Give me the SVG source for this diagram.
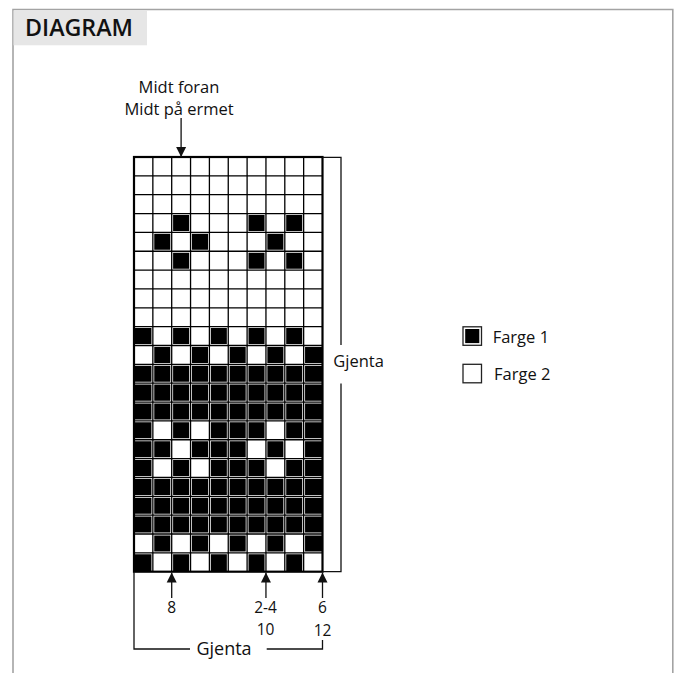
<svg xmlns="http://www.w3.org/2000/svg" xmlns:xlink="http://www.w3.org/1999/xlink" width="680" height="673" viewBox="0 0 680 673">
<style>
  .t { font-family: "Open Sans", "Noto Sans", "Liberation Sans", sans-serif; fill: #111; font-size: 16.5px; }
  .n { font-size: 15.5px; }
  .m { text-anchor: middle; }
  .ln { fill: none; stroke: #111; stroke-width: 1.3; }
  .b { fill: #000; }
</style>
<defs>
  <path id="gridlines" d="M152.85 157V571.7M171.7 157V571.7M190.55 157V571.7M209.4 157V571.7M228.25 157V571.7M247.1 157V571.7M265.95 157V571.7M284.8 157V571.7M303.65 157V571.7M134 175.85H322.5M134 194.7H322.5M134 213.55H322.5M134 232.4H322.5M134 251.25H322.5M134 270.1H322.5M134 288.95H322.5M134 307.8H322.5M134 326.65H322.5M134 345.5H322.5M134 364.35H322.5M134 383.2H322.5M134 402.05H322.5M134 420.9H322.5M134 439.75H322.5M134 458.6H322.5M134 477.45H322.5M134 496.3H322.5M134 515.15H322.5M134 534H322.5M134 552.85H322.5"/>
  <marker id="ah" viewBox="0 0 10 14" refX="10" refY="7" markerWidth="10" markerHeight="14" markerUnits="userSpaceOnUse" orient="auto">
    <path d="M0 2 L10 7 L0 12 Z" fill="#111"/>
  </marker>
</defs>

<!-- frame and title -->
<g id="frame">
  <path d="M13 673V9.5H672.8V673" fill="none" stroke="#a3a3a3" stroke-width="1.6"/>
  <rect x="13.5" y="10.3" width="133.5" height="35" fill="#e6e6e6"/>
  <text class="t" x="25" y="36" style="font-size:23px;font-weight:600" textLength="108" lengthAdjust="spacingAndGlyphs">DIAGRAM</text>
</g>

<!-- chart grid -->
<g id="chart">
  <rect x="134" y="157" width="188.5" height="414.7" fill="#fff"/>
  <rect class="b" x="171.7" y="213.55" width="18.85" height="18.85"/>
  <rect class="b" x="247.1" y="213.55" width="18.85" height="18.85"/>
  <rect class="b" x="284.8" y="213.55" width="18.85" height="18.85"/>
  <rect class="b" x="152.85" y="232.4" width="18.85" height="18.85"/>
  <rect class="b" x="190.55" y="232.4" width="18.85" height="18.85"/>
  <rect class="b" x="265.95" y="232.4" width="18.85" height="18.85"/>
  <rect class="b" x="171.7" y="251.25" width="18.85" height="18.85"/>
  <rect class="b" x="247.1" y="251.25" width="18.85" height="18.85"/>
  <rect class="b" x="284.8" y="251.25" width="18.85" height="18.85"/>
  <rect class="b" x="134" y="326.65" width="18.85" height="18.85"/>
  <rect class="b" x="171.7" y="326.65" width="18.85" height="18.85"/>
  <rect class="b" x="209.4" y="326.65" width="18.85" height="18.85"/>
  <rect class="b" x="247.1" y="326.65" width="18.85" height="18.85"/>
  <rect class="b" x="284.8" y="326.65" width="18.85" height="18.85"/>
  <rect class="b" x="152.85" y="345.5" width="18.85" height="18.85"/>
  <rect class="b" x="190.55" y="345.5" width="18.85" height="18.85"/>
  <rect class="b" x="228.25" y="345.5" width="18.85" height="18.85"/>
  <rect class="b" x="265.95" y="345.5" width="18.85" height="18.85"/>
  <rect class="b" x="303.65" y="345.5" width="18.85" height="18.85"/>
  <rect class="b" x="134" y="364.35" width="188.5" height="56.55"/>
  <rect class="b" x="134" y="420.9" width="18.85" height="18.85"/>
  <rect class="b" x="171.7" y="420.9" width="18.85" height="18.85"/>
  <rect class="b" x="209.4" y="420.9" width="56.55" height="18.85"/>
  <rect class="b" x="284.8" y="420.9" width="37.7" height="18.85"/>
  <rect class="b" x="134" y="439.75" width="37.7" height="18.85"/>
  <rect class="b" x="190.55" y="439.75" width="56.55" height="18.85"/>
  <rect class="b" x="265.95" y="439.75" width="18.85" height="18.85"/>
  <rect class="b" x="303.65" y="439.75" width="18.85" height="18.85"/>
  <rect class="b" x="134" y="458.6" width="18.85" height="18.85"/>
  <rect class="b" x="171.7" y="458.6" width="18.85" height="18.85"/>
  <rect class="b" x="209.4" y="458.6" width="56.55" height="18.85"/>
  <rect class="b" x="284.8" y="458.6" width="37.7" height="18.85"/>
  <rect class="b" x="134" y="477.45" width="188.5" height="56.55"/>
  <rect class="b" x="152.85" y="534" width="18.85" height="18.85"/>
  <rect class="b" x="190.55" y="534" width="18.85" height="18.85"/>
  <rect class="b" x="228.25" y="534" width="18.85" height="18.85"/>
  <rect class="b" x="265.95" y="534" width="18.85" height="18.85"/>
  <rect class="b" x="303.65" y="534" width="18.85" height="18.85"/>
  <rect class="b" x="134" y="552.85" width="18.85" height="18.85"/>
  <rect class="b" x="171.7" y="552.85" width="18.85" height="18.85"/>
  <rect class="b" x="209.4" y="552.85" width="18.85" height="18.85"/>
  <rect class="b" x="247.1" y="552.85" width="18.85" height="18.85"/>
  <rect class="b" x="284.8" y="552.85" width="18.85" height="18.85"/>
  <use xlink:href="#gridlines" fill="none" stroke="#fff" stroke-width="2.8"/>
  <use xlink:href="#gridlines" fill="none" stroke="#000" stroke-width="1.3"/>
  <rect x="134" y="157" width="188.5" height="414.7" fill="none" stroke="#000" stroke-width="2.2"/>
</g>

<!-- labels -->
<g id="top-label">
  <text class="t m" x="179" y="93">Midt foran</text>
  <text class="t m" x="179" y="115">Midt på ermet</text>
</g>
<g id="repeat-right">
  <text class="t" x="333.3" y="366.7">Gjenta</text>
</g>
<g id="repeat-bottom">
  <text class="t m" x="224" y="655" style="font-size:18px;font-weight:500">Gjenta</text>
</g>
<g id="stitch-labels">
  <text class="t n m" x="171.7" y="612.5">8</text>
  <text class="t n m" x="265.5" y="612.5">2-4</text>
  <text class="t n m" x="265.5" y="634.5">10</text>
  <text class="t n m" x="322.5" y="612.5">6</text>
  <text class="t n m" x="322.5" y="636">12</text>
</g>

<!-- legend -->
<g id="legend-farge1">
  <rect x="463" y="326.8" width="18.5" height="18.5" fill="#fff" stroke="#222" stroke-width="1.3"/>
  <rect x="465.2" y="329" width="14.1" height="14.1" fill="#000"/>
  <text class="t" x="492.7" y="343.3">Farge 1</text>
</g>
<g id="legend-farge2">
  <rect x="463" y="364.3" width="18.5" height="18.5" fill="#fff" stroke="#222" stroke-width="1.3"/>
  <text class="t" x="494" y="380">Farge 2</text>
</g>

<!-- connectors -->
<g id="connectors">
  <path class="ln" d="M181.1 118V157" marker-end="url(#ah)"/>
  <path class="ln" d="M171.7 598V572.5" marker-end="url(#ah)"/>
  <path class="ln" d="M265.95 598V572.5" marker-end="url(#ah)"/>
  <path class="ln" d="M322.5 598V572.5" marker-end="url(#ah)"/>
  <path class="ln" d="M322.5 157.3H341V345M341 383.5V571.7H322.5"/>
  <path class="ln" d="M134 571.7V649H190M266.7 649H322.5V640"/>
</g>
</svg>
